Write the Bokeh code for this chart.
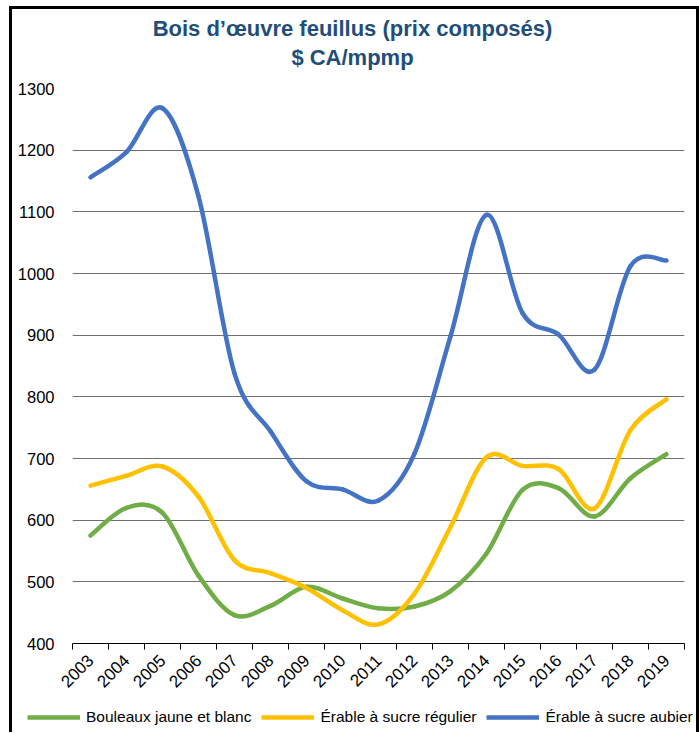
import math
from bokeh.plotting import figure
from bokeh.layouts import column
from bokeh.models import (ColumnDataSource, FixedTicker, Legend, LegendItem, Label, Range1d)
from bokeh.embed import file_html
from bokeh.resources import INLINE

# ---------------- data ----------------
years = [str(y) for y in range(2003, 2020)]
bouleaux = [575, 620, 612, 510, 446, 461, 492, 473, 457, 460, 485, 546, 649, 652, 606, 668, 707]
erable_regulier = [656, 672, 687, 638, 535, 514, 490, 454, 431, 481, 589, 702, 688, 683, 619, 746, 796]
erable_aubier = [1156, 1197, 1268, 1125, 838, 744, 663, 650, 632, 708, 898, 1095, 936, 901, 844, 1012, 1021]
y_ticks = [400, 500, 600, 700, 800, 900, 1000, 1100, 1200, 1300]
series_names = ["Bouleaux jaune et blanc", "Érable à sucre régulier", "Érable à sucre aubier"]
series_colors = ["#70AD47", "#FFC000", "#4472C4"]
title_lines = ["Bois d’œuvre feuillus (prix composés)", "$ CA/mpmp"]

FONT = "Liberation Sans"
TITLE_COLOR = "#1F4E79"
W = 684
H_TITLE, H_MAIN, H_LEG = 69, 622, 32


def no_frame_align(fig):
    if "frame_align" in fig.properties():
        fig.frame_align = False


# ---------------- title strip ----------------
t = figure(width=W, height=H_TITLE, output_backend="svg", toolbar_location=None,
           x_range=Range1d(0, W), y_range=Range1d(0, H_TITLE),
           x_axis_type=None, y_axis_type=None, min_border=0)
no_frame_align(t)
t.outline_line_color = None
t.grid.visible = False
for txt, ty in zip(title_lines, [50, 21]):
    t.add_layout(Label(x=340, y=ty, text=txt, text_align="center", text_baseline="middle",
                       text_font=FONT, text_font_size="22px", text_font_style="bold",
                       text_color=TITLE_COLOR))

# ---------------- main chart ----------------
p = figure(width=W, height=H_MAIN, output_backend="svg", toolbar_location=None,
           x_range=Range1d(0, len(years)), y_range=Range1d(400, 1300),
           min_border_left=60, min_border_right=12, min_border_top=10, min_border_bottom=57)
no_frame_align(p)
p.outline_line_color = None
p.background_fill_color = "white"
p.border_fill_color = "white"


def smooth_source(vals):
    """Excel-style smoothed line: cubic Bezier segments between category centres."""
    xs = [i + 0.5 for i in range(len(vals))]
    n = len(vals)
    d = dict(x0=[], y0=[], x1=[], y1=[], cx0=[], cy0=[], cx1=[], cy1=[])
    for i in range(n - 1):
        im1 = max(i - 1, 0)
        ip2 = min(i + 2, n - 1)
        d["x0"].append(xs[i]); d["y0"].append(vals[i])
        d["x1"].append(xs[i + 1]); d["y1"].append(vals[i + 1])
        d["cx0"].append(xs[i] + (xs[i + 1] - xs[im1]) / 6.0)
        d["cy0"].append(vals[i] + (vals[i + 1] - vals[im1]) / 6.0)
        d["cx1"].append(xs[i + 1] - (xs[ip2] - xs[i]) / 6.0)
        d["cy1"].append(vals[i + 1] - (vals[ip2] - vals[i]) / 6.0)
    return ColumnDataSource(d)


all_series = [bouleaux, erable_regulier, erable_aubier]
for vals, col in zip(all_series, series_colors):
    p.bezier(x0="x0", y0="y0", x1="x1", y1="y1", cx0="cx0", cy0="cy0",
             cx1="cx1", cy1="cy1", source=smooth_source(vals),
             line_color=col, line_width=4.5, line_cap="round")

xa = p.xaxis[0]
xa.ticker = FixedTicker(ticks=[i + 0.5 for i in range(len(years))],
                        minor_ticks=list(range(len(years) + 1)))
xa.major_label_overrides = {i + 0.5: y for i, y in enumerate(years)}
xa.major_tick_out = 0
xa.major_tick_in = 0
xa.minor_tick_out = 6
xa.minor_tick_in = 0
xa.minor_tick_line_color = "black"
xa.axis_line_color = "black"
xa.axis_line_width = 1.2
xa.major_label_orientation = math.pi / 4
xa.major_label_text_font = FONT
xa.major_label_text_font_size = "17px"
xa.major_label_text_color = "black"
xa.major_label_standoff = 8

ya = p.yaxis[0]
ya.ticker = FixedTicker(ticks=y_ticks)
ya.axis_line_color = None
ya.major_tick_line_color = None
ya.minor_tick_line_color = None
ya.major_label_text_font = FONT
ya.major_label_text_font_size = "16.5px"
ya.major_label_text_color = "black"
ya.major_label_standoff = 12

p.xgrid.grid_line_color = None
p.ygrid.grid_line_color = "#6E6E6E"
p.ygrid.grid_line_width = 1.1

# ---------------- legend strip ----------------
# the series are drawn here only to feed the legend; the strip's y-range (0..1)
# keeps them out of view
lg = figure(width=W, height=H_LEG, output_backend="svg", toolbar_location=None,
            x_range=Range1d(0, 1), y_range=Range1d(0, 1),
            x_axis_type=None, y_axis_type=None, min_border=0)
no_frame_align(lg)
lg.outline_line_color = None
lg.grid.visible = False
items = []
for name, vals, col in zip(series_names, all_series, series_colors):
    r = lg.line(x=list(range(len(vals))), y=vals, line_color=col, line_width=4.5)
    items.append(LegendItem(label=name, renderers=[r]))
legend = Legend(items=items, orientation="horizontal", location=(15, 5), padding=0, margin=0,
                spacing=10, glyph_width=53, glyph_height=20, label_standoff=6,
                label_text_font=FONT, label_text_font_size="15.5px", label_text_color="black",
                border_line_alpha=0, background_fill_alpha=0)
lg.add_layout(legend, "center")

layout = column(t, p, lg, spacing=0,
                styles={"margin-left": "9px", "margin-top": "6px",
                        "border-left": "3px solid black", "border-top": "3px solid black",
                        "border-right": "3px solid black"})

open("out.html", "w").write(file_html(layout, INLINE))
